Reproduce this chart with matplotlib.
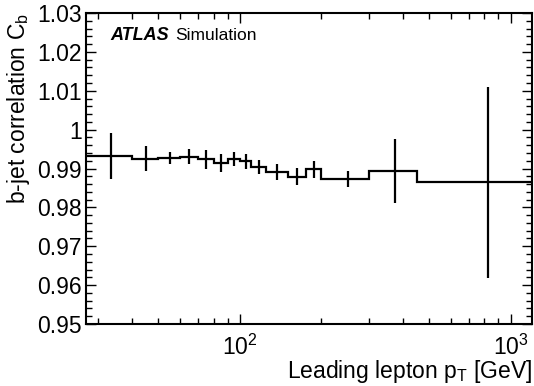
import numpy as np
import matplotlib
matplotlib.use("Agg")
import matplotlib.pyplot as plt
from matplotlib.ticker import MultipleLocator, LogLocator, NullFormatter

plt.rcParams['font.family'] = ['Liberation Sans', 'DejaVu Sans']
plt.rcParams['mathtext.fontset'] = 'custom'
plt.rcParams['mathtext.rm'] = 'Liberation Sans'
plt.rcParams['mathtext.it'] = 'Liberation Sans:italic'
plt.rcParams['mathtext.bf'] = 'Liberation Sans:bold'

# bin edges in leading lepton pT [GeV]
bin_edges = [27, 40, 50, 60, 70, 80, 90, 100, 110, 125, 150, 175, 200, 300, 450, 1200]
# b-jet correlation per bin and its statistical uncertainty
corr = [0.99321, 0.99252, 0.99270, 0.99303, 0.99236, 0.99149, 0.99236, 0.99185,
        0.99046, 0.98909, 0.98789, 0.98979, 0.98737, 0.98935, 0.98645]
corr_err = [0.0059, 0.0032, 0.0016, 0.0019, 0.0024, 0.0023, 0.0018, 0.0019,
            0.0018, 0.0020, 0.0022, 0.0022, 0.0021, 0.0083, 0.0245]
y_ticklabels = ['0.95', '0.96', '0.97', '0.98', '0.99', '1', '1.01', '1.02', '1.03']

edges = np.array(bin_edges, dtype=float)
centers = 0.5 * (edges[:-1] + edges[1:])

fig = plt.figure(figsize=(5.34, 3.86), dpi=100)
ax = fig.add_axes([86 / 534, 62 / 386, 446 / 534, 311 / 386])

ax.stairs(corr, edges, color='black', linewidth=1.6, baseline=None)
ax.errorbar(centers, corr, yerr=corr_err, fmt='none', ecolor='black',
            elinewidth=1.6, capsize=0)

ax.set_xscale('log')
ax.set_xlim(27, 1200)
ax.set_ylim(0.95, 1.03)

ax.set_yticks(np.linspace(0.95, 1.03, len(y_ticklabels)))
ax.set_yticklabels(y_ticklabels)
ax.yaxis.set_minor_locator(MultipleLocator(0.002))
ax.xaxis.set_major_locator(LogLocator(base=10))
ax.xaxis.set_minor_locator(LogLocator(base=10, subs=np.arange(2, 10)))
ax.xaxis.set_minor_formatter(NullFormatter())

ax.tick_params(which='both', direction='in', top=True, right=True,
               labelsize=16.5, width=1.0)
ax.tick_params(axis='y', pad=3)
ax.tick_params(axis='x', pad=8)
ax.tick_params(which='major', length=7.5)
ax.tick_params(which='minor', length=4)
for s in ax.spines.values():
    s.set_linewidth(1.5)

ax.set_xlabel(r'Leading lepton $\mathrm{p_{T}}$ [GeV]', fontsize=16.5, loc='right')
ax.set_ylabel(r'b-jet correlation $\mathrm{C_{b}}$', fontsize=16.5, loc='top')
ax.xaxis.set_label_coords(1.0, -0.11)
ax.yaxis.set_label_coords(-0.12, 1.0)

ax.text(0.054, 0.913, 'ATLAS', transform=ax.transAxes, fontsize=13,
        fontweight='bold', fontstyle='italic', va='baseline')
ax.text(0.2, 0.913, 'Simulation', transform=ax.transAxes, fontsize=12.5,
        va='baseline')

fig.savefig('out.png', dpi=100)
